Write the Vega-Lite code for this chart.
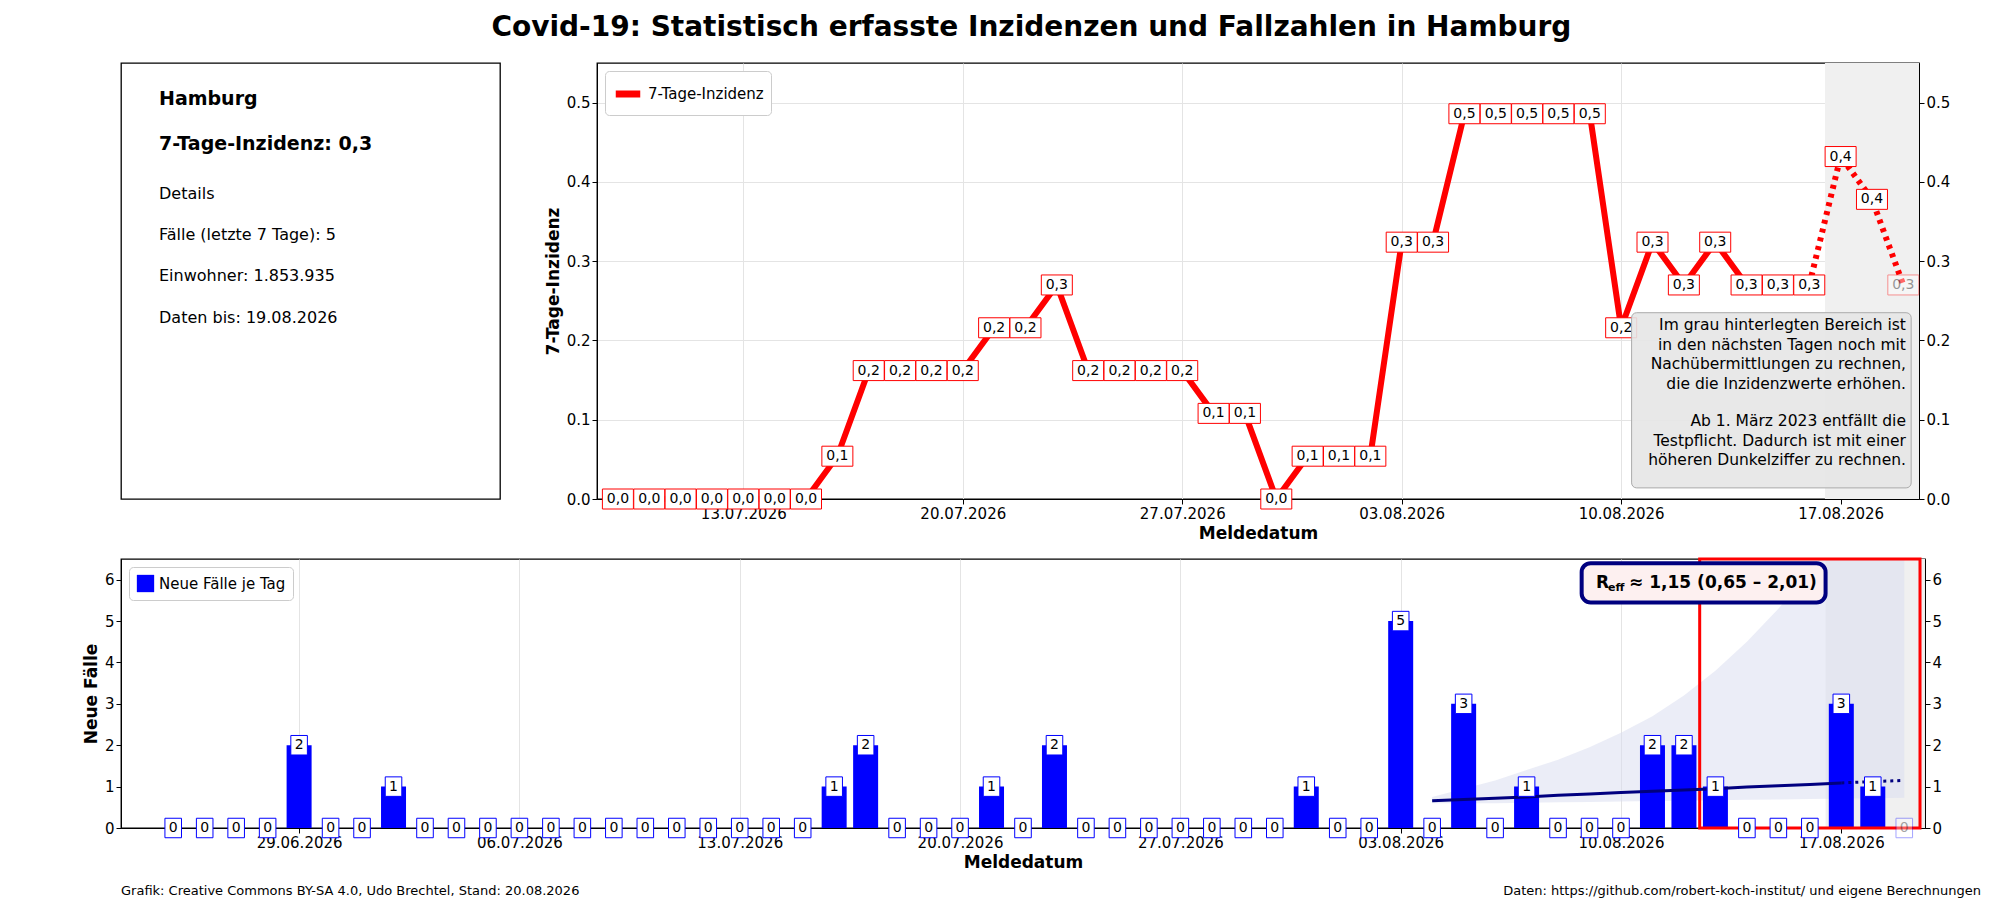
{
  "$schema": "https://vega.github.io/schema/vega-lite/v6.json",
  "background": "white",
  "padding": {"left": 81, "top": 14, "right": 10, "bottom": 5},
  "spacing": 14,
  "title": {"text": "Covid-19: Statistisch erfasste Inzidenzen und Fallzahlen in Hamburg", "fontSize": 28, "font": "DejaVu Sans", "fontWeight": "bold", "anchor": "middle", "offset": 20},
  "resolve": {"scale": {"color": "independent"}},
  "config": {
    "font": "DejaVu Sans",
    "locale": {"number": {"decimal": ",", "thousands": ".", "grouping": [3], "currency": ["", "€"]}},
    "view": {"stroke": "black", "strokeWidth": 1.3},
    "axis": {"labelFontSize": 15, "titleFontSize": 17, "titleFontWeight": "bold", "gridColor": "#e4e4e4", "domainColor": "black", "tickColor": "black", "labelColor": "black", "titleColor": "black"}
  },
  "datasets": {
    "inc": [
      {"d": "2026-07-09", "v": 0}, {"d": "2026-07-10", "v": 0}, {"d": "2026-07-11", "v": 0}, {"d": "2026-07-12", "v": 0},
      {"d": "2026-07-13", "v": 0}, {"d": "2026-07-14", "v": 0}, {"d": "2026-07-15", "v": 0}, {"d": "2026-07-16", "v": 0.054},
      {"d": "2026-07-17", "v": 0.162}, {"d": "2026-07-18", "v": 0.162}, {"d": "2026-07-19", "v": 0.162}, {"d": "2026-07-20", "v": 0.162},
      {"d": "2026-07-21", "v": 0.216}, {"d": "2026-07-22", "v": 0.216}, {"d": "2026-07-23", "v": 0.27}, {"d": "2026-07-24", "v": 0.162},
      {"d": "2026-07-25", "v": 0.162}, {"d": "2026-07-26", "v": 0.162}, {"d": "2026-07-27", "v": 0.162}, {"d": "2026-07-28", "v": 0.108},
      {"d": "2026-07-29", "v": 0.108}, {"d": "2026-07-30", "v": 0}, {"d": "2026-07-31", "v": 0.054}, {"d": "2026-08-01", "v": 0.054},
      {"d": "2026-08-02", "v": 0.054}, {"d": "2026-08-03", "v": 0.324}, {"d": "2026-08-04", "v": 0.324}, {"d": "2026-08-05", "v": 0.486},
      {"d": "2026-08-06", "v": 0.486}, {"d": "2026-08-07", "v": 0.486}, {"d": "2026-08-08", "v": 0.486}, {"d": "2026-08-09", "v": 0.486},
      {"d": "2026-08-10", "v": 0.216}, {"d": "2026-08-11", "v": 0.324}, {"d": "2026-08-12", "v": 0.27}, {"d": "2026-08-13", "v": 0.324},
      {"d": "2026-08-14", "v": 0.27}, {"d": "2026-08-15", "v": 0.27}, {"d": "2026-08-16", "v": 0.27}, {"d": "2026-08-17", "v": 0.432},
      {"d": "2026-08-18", "v": 0.378}, {"d": "2026-08-19", "v": 0.27}
    ],
    "cases": [
      {"d": "2026-06-25", "c": 0}, {"d": "2026-06-26", "c": 0}, {"d": "2026-06-27", "c": 0}, {"d": "2026-06-28", "c": 0},
      {"d": "2026-06-29", "c": 2}, {"d": "2026-06-30", "c": 0}, {"d": "2026-07-01", "c": 0}, {"d": "2026-07-02", "c": 1},
      {"d": "2026-07-03", "c": 0}, {"d": "2026-07-04", "c": 0}, {"d": "2026-07-05", "c": 0}, {"d": "2026-07-06", "c": 0},
      {"d": "2026-07-07", "c": 0}, {"d": "2026-07-08", "c": 0}, {"d": "2026-07-09", "c": 0}, {"d": "2026-07-10", "c": 0},
      {"d": "2026-07-11", "c": 0}, {"d": "2026-07-12", "c": 0}, {"d": "2026-07-13", "c": 0}, {"d": "2026-07-14", "c": 0},
      {"d": "2026-07-15", "c": 0}, {"d": "2026-07-16", "c": 1}, {"d": "2026-07-17", "c": 2}, {"d": "2026-07-18", "c": 0},
      {"d": "2026-07-19", "c": 0}, {"d": "2026-07-20", "c": 0}, {"d": "2026-07-21", "c": 1}, {"d": "2026-07-22", "c": 0},
      {"d": "2026-07-23", "c": 2}, {"d": "2026-07-24", "c": 0}, {"d": "2026-07-25", "c": 0}, {"d": "2026-07-26", "c": 0},
      {"d": "2026-07-27", "c": 0}, {"d": "2026-07-28", "c": 0}, {"d": "2026-07-29", "c": 0}, {"d": "2026-07-30", "c": 0},
      {"d": "2026-07-31", "c": 1}, {"d": "2026-08-01", "c": 0}, {"d": "2026-08-02", "c": 0}, {"d": "2026-08-03", "c": 5},
      {"d": "2026-08-04", "c": 0}, {"d": "2026-08-05", "c": 3}, {"d": "2026-08-06", "c": 0}, {"d": "2026-08-07", "c": 1},
      {"d": "2026-08-08", "c": 0}, {"d": "2026-08-09", "c": 0}, {"d": "2026-08-10", "c": 0}, {"d": "2026-08-11", "c": 2},
      {"d": "2026-08-12", "c": 2}, {"d": "2026-08-13", "c": 1}, {"d": "2026-08-14", "c": 0}, {"d": "2026-08-15", "c": 0},
      {"d": "2026-08-16", "c": 0}, {"d": "2026-08-17", "c": 3}, {"d": "2026-08-18", "c": 1}, {"d": "2026-08-19", "c": 0}
    ],
    "rt": [
      {"d": "2026-08-04", "r": 0.66, "lo": 0.6, "hi": 0.75}, {"d": "2026-08-05", "r": 0.69, "lo": 0.6, "hi": 0.95},
      {"d": "2026-08-06", "r": 0.72, "lo": 0.6, "hi": 1.15}, {"d": "2026-08-07", "r": 0.75, "lo": 0.61, "hi": 1.4},
      {"d": "2026-08-08", "r": 0.79, "lo": 0.62, "hi": 1.65}, {"d": "2026-08-09", "r": 0.82, "lo": 0.63, "hi": 1.95},
      {"d": "2026-08-10", "r": 0.86, "lo": 0.64, "hi": 2.3}, {"d": "2026-08-11", "r": 0.89, "lo": 0.65, "hi": 2.7},
      {"d": "2026-08-12", "r": 0.92, "lo": 0.66, "hi": 3.2}, {"d": "2026-08-13", "r": 0.95, "lo": 0.67, "hi": 3.8},
      {"d": "2026-08-14", "r": 0.99, "lo": 0.68, "hi": 4.5}, {"d": "2026-08-15", "r": 1.02, "lo": 0.69, "hi": 5.3},
      {"d": "2026-08-16", "r": 1.05, "lo": 0.7, "hi": 6.2}, {"d": "2026-08-17", "r": 1.09, "lo": 0.71, "hi": 7.2},
      {"d": "2026-08-18", "r": 1.12, "lo": 0.72, "hi": 8.3}, {"d": "2026-08-19", "r": 1.15, "lo": 0.73, "hi": 9.5}
    ]
  },
  "vconcat": [
    {
      "hconcat": [
        {
          "width": 379, "height": 436,
          "data": {"values": [
            {"t": "Hamburg", "y": 0.083, "b": 1},
            {"t": "7-Tage-Inzidenz: 0,3", "y": 0.186, "b": 1},
            {"t": "Details", "y": 0.3, "b": 0},
            {"t": "Fälle (letzte 7 Tage): 5", "y": 0.394, "b": 0},
            {"t": "Einwohner: 1.853.935", "y": 0.488, "b": 0},
            {"t": "Daten bis: 19.08.2026", "y": 0.585, "b": 0}
          ]},
          "layer": [
            {
              "transform": [{"filter": "datum.b == 1"}],
              "mark": {"type": "text", "align": "left", "baseline": "middle", "x": 38, "fontWeight": "bold", "fontSize": 19},
              "encoding": {"y": {"field": "y", "type": "quantitative", "scale": {"domain": [0, 1], "reverse": true}, "axis": null}, "text": {"field": "t"}}
            },
            {
              "transform": [{"filter": "datum.b == 0"}],
              "mark": {"type": "text", "align": "left", "baseline": "middle", "x": 38, "fontSize": 16},
              "encoding": {"y": {"field": "y", "type": "quantitative", "axis": null}, "text": {"field": "t"}}
            }
          ]
        },
        {
          "width": 1322, "height": 436,
          "layer": [
            {
              "data": {"values": [{"s": "2026-08-16T12:00:00Z", "e": "2026-08-20T12:00:00Z"}]},
              "mark": {"type": "rect", "color": "#f0f0f0", "clip": true},
              "encoding": {"x": {"field": "s", "type": "temporal"}, "x2": {"field": "e"}}
            },
            {
              "data": {"name": "inc"},
              "transform": [{"filter": "time(datum.d) <= utc(2026, 7, 16)"}],
              "mark": {"type": "line", "strokeWidth": 6},
              "encoding": {
                "x": {"field": "d", "type": "temporal", "scale": {"type": "utc", "domain": [{"year": 2026, "month": 7, "date": 8, "hours": 8, "utc": true}, {"year": 2026, "month": 8, "date": 19, "hours": 12, "utc": true}]},
                  "axis": {"title": "Meldedatum", "format": "%d.%m.%Y", "grid": true, "values": [
                    {"year": 2026, "month": 7, "date": 13, "utc": true}, {"year": 2026, "month": 7, "date": 20, "utc": true},
                    {"year": 2026, "month": 7, "date": 27, "utc": true}, {"year": 2026, "month": 8, "date": 3, "utc": true},
                    {"year": 2026, "month": 8, "date": 10, "utc": true}, {"year": 2026, "month": 8, "date": 17, "utc": true}]}},
                "y": {"field": "v", "type": "quantitative", "scale": {"domain": [0, 0.53]}, "axis": {"title": "7-Tage-Inzidenz", "values": [0, 0.1, 0.2, 0.3, 0.4, 0.5], "labelExpr": "replace(format(datum.value, '.1f'), ',', '.')"}},
                "color": {"datum": "7-Tage-Inzidenz", "type": "nominal", "scale": {"range": ["#ff0000"]},
                  "legend": {"title": null, "orient": "top-left", "symbolType": "stroke", "symbolStrokeWidth": 7, "symbolSize": 600, "labelFontSize": 15, "fillColor": "white", "strokeColor": "#cccccc", "padding": 7, "cornerRadius": 4, "offset": 8}}
              }
            },
            {
              "data": {"name": "inc"},
              "transform": [{"filter": "time(datum.d) >= utc(2026, 7, 16)"}],
              "mark": {"type": "line", "strokeWidth": 6, "strokeDash": [4, 5], "color": "#ff0000"},
              "encoding": {"x": {"field": "d", "type": "temporal"}, "y": {"field": "v", "type": "quantitative", "axis": null}}
            },
            {
              "data": {"name": "inc"},
              "mark": {"type": "point", "shape": "M-1.55,-1H1.55V1H-1.55Z", "size": 400, "filled": true, "fill": "white", "stroke": "#ff0000", "strokeWidth": 1},
              "encoding": {"x": {"field": "d", "type": "temporal"}, "y": {"field": "v", "type": "quantitative", "axis": null},
                "opacity": {"condition": {"test": "time(datum.d) == utc(2026, 7, 19)", "value": 0.4}, "value": 1}}
            },
            {
              "data": {"name": "inc"},
              "mark": {"type": "text", "fontSize": 14, "baseline": "middle"},
              "encoding": {"x": {"field": "d", "type": "temporal"}, "y": {"field": "v", "type": "quantitative", "axis": null},
                "text": {"field": "v", "type": "quantitative", "format": ".1f"},
                "opacity": {"condition": {"test": "time(datum.d) == utc(2026, 7, 19)", "value": 0.4}, "value": 1}}
            },
            {
              "data": {"values": [{"s": "2026-08-10T08:00:00Z", "e": "2026-08-19T06:00:00Z", "y1": 0.014, "y2": 0.235}]},
              "mark": {"type": "rect", "fill": "#e6e6e6", "fillOpacity": 0.9, "stroke": "#aaaaaa", "cornerRadius": 5},
              "encoding": {"x": {"field": "s", "type": "temporal"}, "x2": {"field": "e"}, "y": {"field": "y1", "type": "quantitative", "axis": null}, "y2": {"field": "y2"}}
            },
            {
              "data": {"values": [
                {"d": "2026-08-19T02:00:00Z", "y": 0.228, "t": ["Im grau hinterlegten Bereich ist", "in den nächsten Tagen noch mit", "Nachübermittlungen zu rechnen,", "die die Inzidenzwerte erhöhen."]},
                {"d": "2026-08-19T02:00:00Z", "y": 0.107, "t": ["Ab 1. März 2023 entfällt die", "Testpflicht. Dadurch ist mit einer", "höheren Dunkelziffer zu rechnen."]}
              ]},
              "mark": {"type": "text", "align": "right", "baseline": "top", "fontSize": 15.5, "lineHeight": 19.5},
              "encoding": {"x": {"field": "d", "type": "temporal"}, "y": {"field": "y", "type": "quantitative", "axis": null}, "text": {"field": "t"}}
            },
            {
              "data": {"name": "inc"},
              "mark": {"type": "point", "opacity": 0},
              "encoding": {"x": {"field": "d", "type": "temporal"},
                "y": {"field": "v", "type": "quantitative", "axis": {"orient": "right", "title": null, "grid": false, "values": [0, 0.1, 0.2, 0.3, 0.4, 0.5], "labelExpr": "replace(format(datum.value, '.1f'), ',', '.')"}}}
            }
          ],
          "resolve": {"axis": {"y": "independent"}}
        }
      ],
      "spacing": 42,
      "resolve": {"scale": {"color": "independent"}}
    },
    {
      "width": 1804, "height": 269,
      "layer": [
        {
          "data": {"values": [{"s": "2026-08-16T12:00:00Z", "e": "2026-08-20T12:00:00Z"}]},
          "mark": {"type": "rect", "color": "#f0f0f0", "clip": true},
          "encoding": {"x": {"field": "s", "type": "temporal"}, "x2": {"field": "e"}}
        },
        {
          "data": {"name": "rt"},
          "mark": {"type": "area", "color": "#d8dcef", "opacity": 0.5, "clip": true},
          "encoding": {"x": {"field": "d", "type": "temporal"}, "y": {"field": "lo", "type": "quantitative", "axis": null}, "y2": {"field": "hi"}}
        },
        {
          "data": {"name": "cases"},
          "mark": {"type": "bar", "size": 25},
          "encoding": {
            "x": {"field": "d", "type": "temporal", "scale": {"type": "utc", "domain": [{"year": 2026, "month": 6, "date": 23, "hours": 12, "utc": true}, {"year": 2026, "month": 8, "date": 19, "hours": 12, "utc": true}]},
              "axis": {"title": "Meldedatum", "format": "%d.%m.%Y", "grid": true, "values": [
                {"year": 2026, "month": 6, "date": 29, "utc": true}, {"year": 2026, "month": 7, "date": 6, "utc": true},
                {"year": 2026, "month": 7, "date": 13, "utc": true}, {"year": 2026, "month": 7, "date": 20, "utc": true},
                {"year": 2026, "month": 7, "date": 27, "utc": true}, {"year": 2026, "month": 8, "date": 3, "utc": true},
                {"year": 2026, "month": 8, "date": 10, "utc": true}, {"year": 2026, "month": 8, "date": 17, "utc": true}]}},
            "y": {"field": "c", "type": "quantitative", "scale": {"domain": [0, 6.5]}, "axis": {"title": "Neue Fälle", "values": [0, 1, 2, 3, 4, 5, 6]}},
            "color": {"datum": "Neue Fälle je Tag", "type": "nominal", "scale": {"range": ["#0000ff"]},
              "legend": {"title": null, "orient": "top-left", "symbolType": "square", "symbolSize": 300, "labelFontSize": 15, "fillColor": "white", "strokeColor": "#cccccc", "padding": 7, "cornerRadius": 4, "offset": 8}}
          }
        },
        {
          "data": {"values": [{"s": "2026-08-12T12:00:00Z", "e": "2026-08-19T12:00:00Z", "y1": 0, "y2": 6.5}]},
          "mark": {"type": "rect", "fill": null, "fillOpacity": 0, "stroke": "#ff0000", "strokeWidth": 3},
          "encoding": {"x": {"field": "s", "type": "temporal"}, "x2": {"field": "e"}, "y": {"field": "y1", "type": "quantitative", "axis": null}, "y2": {"field": "y2"}}
        },
        {
          "data": {"name": "rt"},
          "transform": [{"filter": "time(datum.d) <= utc(2026, 7, 17)"}],
          "mark": {"type": "line", "color": "#00007f", "strokeWidth": 3},
          "encoding": {"x": {"field": "d", "type": "temporal"}, "y": {"field": "r", "type": "quantitative", "axis": null}}
        },
        {
          "data": {"name": "rt"},
          "transform": [{"filter": "time(datum.d) >= utc(2026, 7, 17)"}],
          "mark": {"type": "line", "color": "#00007f", "strokeWidth": 3, "strokeDash": [3, 4]},
          "encoding": {"x": {"field": "d", "type": "temporal"}, "y": {"field": "r", "type": "quantitative", "axis": null}}
        },
        {
          "data": {"name": "cases"},
          "mark": {"type": "point", "shape": "M-0.85,-1H0.85V1H-0.85Z", "size": 380, "filled": true, "fill": "white", "stroke": "#0000ff", "strokeWidth": 1},
          "encoding": {"x": {"field": "d", "type": "temporal"}, "y": {"field": "c", "type": "quantitative", "axis": null},
            "opacity": {"condition": {"test": "time(datum.d) == utc(2026, 7, 19)", "value": 0.35}, "value": 1}}
        },
        {
          "data": {"name": "cases"},
          "mark": {"type": "text", "fontSize": 14, "baseline": "middle"},
          "encoding": {"x": {"field": "d", "type": "temporal"}, "y": {"field": "c", "type": "quantitative", "axis": null}, "text": {"field": "c"},
            "opacity": {"condition": {"test": "time(datum.d) == utc(2026, 7, 19)", "value": 0.35}, "value": 1}}
        },
        {
          "data": {"values": [{"s": "2026-08-08T18:00:00Z", "e": "2026-08-16T12:00:00Z", "y1": 5.45, "y2": 6.4}]},
          "mark": {"type": "rect", "fill": "#fdf0f0", "stroke": "#00007f", "strokeWidth": 4, "cornerRadius": 9},
          "encoding": {"x": {"field": "s", "type": "temporal"}, "x2": {"field": "e"}, "y": {"field": "y1", "type": "quantitative", "axis": null}, "y2": {"field": "y2"}}
        },
        {
          "data": {"values": [{"d": "2026-08-09T05:00:00Z", "y": 5.93, "t": "R"}]},
          "mark": {"type": "text", "align": "left", "baseline": "middle", "fontWeight": "bold", "fontSize": 17},
          "encoding": {"x": {"field": "d", "type": "temporal"}, "y": {"field": "y", "type": "quantitative", "axis": null}, "text": {"field": "t"}}
        },
        {
          "data": {"values": [{"d": "2026-08-09T05:00:00Z", "y": 5.93, "t": "eff"}]},
          "mark": {"type": "text", "align": "left", "baseline": "middle", "fontWeight": "bold", "fontSize": 11, "dx": 12, "dy": 5},
          "encoding": {"x": {"field": "d", "type": "temporal"}, "y": {"field": "y", "type": "quantitative", "axis": null}, "text": {"field": "t"}}
        },
        {
          "data": {"values": [{"d": "2026-08-09T05:00:00Z", "y": 5.93, "t": "≈ 1,15 (0,65 – 2,01)"}]},
          "mark": {"type": "text", "align": "left", "baseline": "middle", "fontWeight": "bold", "fontSize": 17, "dx": 33},
          "encoding": {"x": {"field": "d", "type": "temporal"}, "y": {"field": "y", "type": "quantitative", "axis": null}, "text": {"field": "t"}}
        },
        {
          "data": {"name": "cases"},
          "mark": {"type": "point", "opacity": 0},
          "encoding": {"x": {"field": "d", "type": "temporal"},
            "y": {"field": "c", "type": "quantitative", "axis": {"orient": "right", "title": null, "grid": false, "values": [0, 1, 2, 3, 4, 5, 6]}}}
        }
      ],
      "resolve": {"axis": {"y": "independent"}}
    },
    {
      "width": 1804, "height": 10,
      "view": {"stroke": null},
      "data": {"values": [
        {"x": 0, "t": "Grafik: Creative Commons BY-SA 4.0, Udo Brechtel, Stand: 20.08.2026"},
        {"x": 1, "t": "Daten: https://github.com/robert-koch-institut/ und eigene Berechnungen"}
      ]},
      "layer": [
        {"transform": [{"filter": "datum.x == 0"}], "mark": {"type": "text", "align": "left", "fontSize": 13}, "encoding": {"x": {"field": "x", "type": "quantitative", "scale": {"domain": [0, 1]}, "axis": null}, "text": {"field": "t"}}},
        {"transform": [{"filter": "datum.x == 1"}], "mark": {"type": "text", "align": "right", "fontSize": 13, "dx": 56}, "encoding": {"x": {"field": "x", "type": "quantitative", "scale": {"domain": [0, 1]}, "axis": null}, "text": {"field": "t"}}}
      ]
    }
  ]
}
